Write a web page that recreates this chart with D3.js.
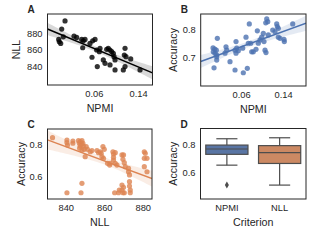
<!DOCTYPE html>
<html>
<head>
<meta charset="utf-8">
<script src="https://cdn.jsdelivr.net/npm/d3@7"></script>
<style>
  body { margin: 0; background: #fff; }
  text { font-family: "Liberation Sans", Arial, sans-serif; fill: #262626; }
</style>
</head>
<body>
<div id="app"></div>
<script>
// panel A: NPMI vs NLL
const npmiA = [0.0079, 0.0019, -0.0035, 0.0001, 0.0048, -0.0024, 0.0242, 0.0290, 0.0381, 0.0410,
  0.0441, 0.0399, 0.0531, 0.0580, 0.0622, 0.0567, 0.0652, 0.0700, 0.0712, 0.0663,
  0.0772, 0.0803, 0.0833, 0.0862, 0.0893, 0.0924, 0.0953, 0.0966, 0.0984, 0.0984,
  0.0893, 0.1134, 0.1165, 0.1165, 0.1152, 0.1183, 0.1268, 0.1436];
const nllA = [894.7, 884.9, 872.6, 867.8, 875.7, 869.8, 876.5, 875.0, 872.6, 870.9,
  872.6, 862.6, 867.8, 870.9, 872.6, 851.2, 859.9, 857.9, 861.9, 840.0,
  848.0, 844.0, 860.7, 861.9, 859.9, 857.9, 855.9, 851.9, 848.0, 836.1,
  842.0, 836.1, 840.0, 861.9, 853.9, 851.9, 849.2, 836.1];

// panel B: NPMI vs Accuracy
const npmiB = [0.0758, 0.1090, 0.1109, 0.1071, 0.1280, 0.1292, 0.1311, 0.1585, 0.0149, 0.0067,
  0.0099, 0.0129, 0.0072, 0.0105, 0.0137, 0.0137, 0.0137, 0.0086, 0.0314, 0.0328,
  0.0295, 0.0390, 0.0505, 0.0486, 0.0518, 0.0486, 0.0549, 0.0505, 0.0632, 0.0695,
  0.0739, 0.0785, 0.0644, 0.0720, 0.0804, 0.0834, 0.0886, 0.0911, 0.0930, 0.0962,
  0.0994, 0.1025, 0.1038, 0.1057, 0.1076, 0.1120, 0.1311, 0.1343, 0.1419, 0.1425,
  0.1204, 0.1248];
const accB = [0.821, 0.839, 0.829, 0.825, 0.821, 0.811, 0.805, 0.821, 0.769, 0.734,
  0.730, 0.726, 0.720, 0.715, 0.708, 0.690, 0.702, 0.662, 0.738, 0.726,
  0.715, 0.684, 0.757, 0.654, 0.733, 0.726, 0.724, 0.715, 0.733, 0.773,
  0.751, 0.751, 0.644, 0.660, 0.720, 0.720, 0.729, 0.796, 0.751, 0.763,
  0.773, 0.787, 0.757, 0.726, 0.717, 0.781, 0.773, 0.769, 0.765, 0.757,
  0.799, 0.793];

// panel C: NLL vs Accuracy
const nllC = [833.1, 840.6, 840.6, 840.9, 843.7, 843.7,
  846.6, 847.5, 848.4, 847.0, 848.1, 848.9, 847.5, 849.2, 847.2, 848.4, 849.6,
  850.6, 851.3, 852.7, 853.6, 850.1, 848.4, 840.6, 847.9,
  856.2, 857.0, 857.9, 858.4, 859.3, 860.0, 858.8, 859.6,
  861.7, 862.8, 863.1,
  864.5, 864.8, 864.8, 864.8, 865.7, 865.7, 866.6,
  865.4, 867.4, 867.8,
  869.2, 870.0, 869.7, 870.4, 870.9,
  869.2, 869.2, 869.7, 870.4, 870.0,
  872.6, 872.6, 873.1, 873.1, 873.1, 873.5, 873.5,
  880.8, 881.3, 880.8, 882.2, 880.8, 882.2];
const accC = [0.844, 0.829, 0.813, 0.798, 0.823, 0.809,
  0.825, 0.819, 0.825, 0.809, 0.803, 0.809, 0.792, 0.792, 0.778, 0.767, 0.771,
  0.788, 0.771, 0.756, 0.763, 0.725, 0.559, 0.500, 0.500,
  0.763, 0.750, 0.756, 0.746, 0.788, 0.771, 0.725, 0.715,
  0.684, 0.673, 0.684,
  0.756, 0.742, 0.721, 0.704, 0.750, 0.684, 0.673,
  0.500, 0.500, 0.517,
  0.736, 0.736, 0.709, 0.688, 0.663,
  0.548, 0.517, 0.500, 0.500, 0.534,
  0.652, 0.631, 0.611, 0.569, 0.542, 0.517, 0.500,
  0.756, 0.746, 0.715, 0.715, 0.663, 0.631];

// panel D: accuracy by selection criterion
const criteria = ["NPMI", "NLL"];
const boxQ1 = [0.729, 0.664];
const boxMedian = [0.767, 0.741];
const boxQ3 = [0.795, 0.791];
const whiskerLow = [0.652, 0.510];
const whiskerHigh = [0.840, 0.847];
const outliers = [[0.510], []];

const npmiTicks = [0.06, 0.14];
const nllTicks = [840, 860, 880];
const accTicksB = [0.7, 0.8];
const accTicksCD = [0.6, 0.8];

const W = 320, H = 240;
const blue = "#4c72b0", orange = "#dd8452";
const boxFill = ["#5975a4", "#cc8963"];
const gray = "#4d4d4d";

const svg = d3.select("#app").append("svg").attr("width", W).attr("height", H);

function frame(g, w, h) {
  g.append("rect").attr("width", w).attr("height", h)
    .attr("fill", "none").attr("stroke", "#262626").attr("stroke-width", 1);
}

function axes(g, x, y, w, h, xTicks, yTicks, xFmt, yFmt) {
  g.append("g").attr("transform", `translate(0,${h})`)
    .call(d3.axisBottom(x).tickValues(xTicks).tickFormat(xFmt).tickSize(0).tickPadding(5))
    .call(a => a.select(".domain").remove())
    .selectAll("text").style("font-size", "9.3px").attr("fill", "#262626");
  g.append("g")
    .call(d3.axisLeft(y).tickValues(yTicks).tickFormat(yFmt).tickSize(0).tickPadding(5))
    .call(a => a.select(".domain").remove())
    .selectAll("text").style("font-size", "9.3px").attr("fill", "#262626");
}

function labels(g, w, h, xl, yl, letter, ylx) {
  g.append("text").attr("x", w / 2).attr("y", h + 27)
    .attr("text-anchor", "middle").style("font-size", "10.7px").text(xl);
  g.append("text").attr("transform", `translate(${ylx},${h / 2}) rotate(-90)`)
    .attr("text-anchor", "middle").attr("dominant-baseline", "central")
    .style("font-size", "10.7px").text(yl);
  g.append("text").attr("x", -20).attr("y", -1)
    .style("font-size", "10px").style("font-weight", "bold").text(letter);
}

function regPanel(p) {
  const g = svg.append("g").attr("transform", `translate(${p.left},${p.top})`);
  const x = d3.scaleLinear().domain(p.xDomain).range([0, p.w]);
  const y = d3.scaleLinear().domain(p.yDomain).range([p.h, 0]);
  const xs = p.xs, ys = p.ys, n = xs.length;
  const mx = d3.mean(xs), my = d3.mean(ys);
  const sxx = d3.sum(xs, v => (v - mx) ** 2);
  const sxy = d3.sum(xs, (v, i) => (v - mx) * (ys[i] - my));
  const b = sxy / sxx, a = my - b * mx;
  const s = Math.sqrt(d3.sum(xs, (v, i) => (ys[i] - a - b * v) ** 2) / (n - 2));
  const t = 1.96 + 2.4 / (n - 2);
  const band = d3.range(0, 41).map(i => {
    const xv = p.xDomain[0] + (p.xDomain[1] - p.xDomain[0]) * i / 40;
    const se = s * Math.sqrt(1 / n + (xv - mx) ** 2 / sxx);
    return { x: xv, lo: a + b * xv - t * se, hi: a + b * xv + t * se };
  });
  const clip = "clip" + p.letter;
  g.append("clipPath").attr("id", clip).append("rect").attr("width", p.w).attr("height", p.h);
  const plot = g.append("g").attr("clip-path", `url(#${clip})`);
  plot.selectAll("circle").data(xs).join("circle")
    .attr("cx", d => x(d)).attr("cy", (d, i) => y(ys[i])).attr("r", 2.6)
    .attr("fill", p.color).attr("fill-opacity", 0.8);
  plot.append("path").datum(band)
    .attr("d", d3.area().x(d => x(d.x)).y0(d => y(d.lo)).y1(d => y(d.hi)))
    .attr("fill", p.color).attr("fill-opacity", 0.15);
  plot.append("line")
    .attr("x1", x(p.xDomain[0])).attr("y1", y(a + b * p.xDomain[0]))
    .attr("x2", x(p.xDomain[1])).attr("y2", y(a + b * p.xDomain[1]))
    .attr("stroke", p.color).attr("stroke-width", 1.5);
  frame(g, p.w, p.h);
  axes(g, x, y, p.w, p.h, p.xTicks, p.yTicks, p.xFmt, p.yFmt);
  labels(g, p.w, p.h, p.xLabel, p.yLabel, p.letter, p.ylx);
}

regPanel({ letter: "A", left: 47.5, top: 14, w: 105, h: 71, xs: npmiA, ys: nllA,
  xDomain: [-0.0238, 0.1662], yDomain: [818, 903], xTicks: npmiTicks, yTicks: nllTicks,
  xFmt: d3.format(".2f"), yFmt: d3.format("d"), xLabel: "NPMI", yLabel: "NLL", color: "#000", ylx: -32 });

regPanel({ letter: "B", left: 200.7, top: 14, w: 105.3, h: 72, xs: npmiB, ys: accB,
  xDomain: [-0.0168, 0.1838], yDomain: [0.596, 0.857], xTicks: npmiTicks, yTicks: accTicksB,
  xFmt: d3.format(".2f"), yFmt: d3.format(".1f"), xLabel: "NPMI", yLabel: "Accuracy", color: blue, ylx: -28 });

regPanel({ letter: "C", left: 47.5, top: 129, w: 104.5, h: 70, xs: nllC, ys: accC,
  xDomain: [830.5, 884.8], yDomain: [0.461, 0.898], xTicks: nllTicks, yTicks: accTicksCD,
  xFmt: d3.format("d"), yFmt: d3.format(".1f"), xLabel: "NLL", yLabel: "Accuracy", color: orange, ylx: -27 });

// panel D boxplot
(function () {
  const left = 200.5, top = 128.5, w = 105.5, h = 70.5;
  const g = svg.append("g").attr("transform", `translate(${left},${top})`);
  const x = d3.scaleBand().domain(criteria).range([0, w]);
  const y = d3.scaleLinear().domain([0.411, 0.913]).range([h, 0]);
  const bw = x.bandwidth() * 0.8;
  criteria.forEach((c, i) => {
    const cx = x(c) + x.bandwidth() / 2;
    const bg = g.append("g");
    bg.append("line").attr("x1", cx).attr("x2", cx).attr("y1", y(whiskerHigh[i])).attr("y2", y(boxQ3[i]))
      .attr("stroke", gray).attr("stroke-width", 1.2);
    bg.append("line").attr("x1", cx).attr("x2", cx).attr("y1", y(boxQ1[i])).attr("y2", y(whiskerLow[i]))
      .attr("stroke", gray).attr("stroke-width", 1.2);
    [whiskerHigh[i], whiskerLow[i]].forEach(v => {
      bg.append("line").attr("x1", cx - bw / 4).attr("x2", cx + bw / 4).attr("y1", y(v)).attr("y2", y(v))
        .attr("stroke", gray).attr("stroke-width", 1.2);
    });
    bg.append("rect").attr("x", cx - bw / 2).attr("width", bw)
      .attr("y", y(boxQ3[i])).attr("height", y(boxQ1[i]) - y(boxQ3[i]))
      .attr("fill", boxFill[i]).attr("stroke", gray).attr("stroke-width", 1.2);
    bg.append("line").attr("x1", cx - bw / 2).attr("x2", cx + bw / 2)
      .attr("y1", y(boxMedian[i])).attr("y2", y(boxMedian[i]))
      .attr("stroke", gray).attr("stroke-width", 1.2);
    bg.selectAll("path.out").data(outliers[i]).join("path").attr("class", "out")
      .attr("transform", d => `translate(${cx},${y(d)})`)
      .attr("d", d3.symbol(d3.symbolDiamond, 14)).attr("fill", gray);
  });
  frame(g, w, h);
  g.append("g").attr("transform", `translate(0,${h})`)
    .call(d3.axisBottom(x).tickSize(0).tickPadding(5))
    .call(a => a.select(".domain").remove())
    .selectAll("text").style("font-size", "9.3px").attr("fill", "#262626");
  g.append("g")
    .call(d3.axisLeft(y).tickValues(accTicksCD).tickFormat(d3.format(".1f")).tickSize(0).tickPadding(5))
    .call(a => a.select(".domain").remove())
    .selectAll("text").style("font-size", "9.3px").attr("fill", "#262626");
  labels(g, w, h, "Criterion", "Accuracy", "D", -28);
})();
</script>
</body>
</html>
